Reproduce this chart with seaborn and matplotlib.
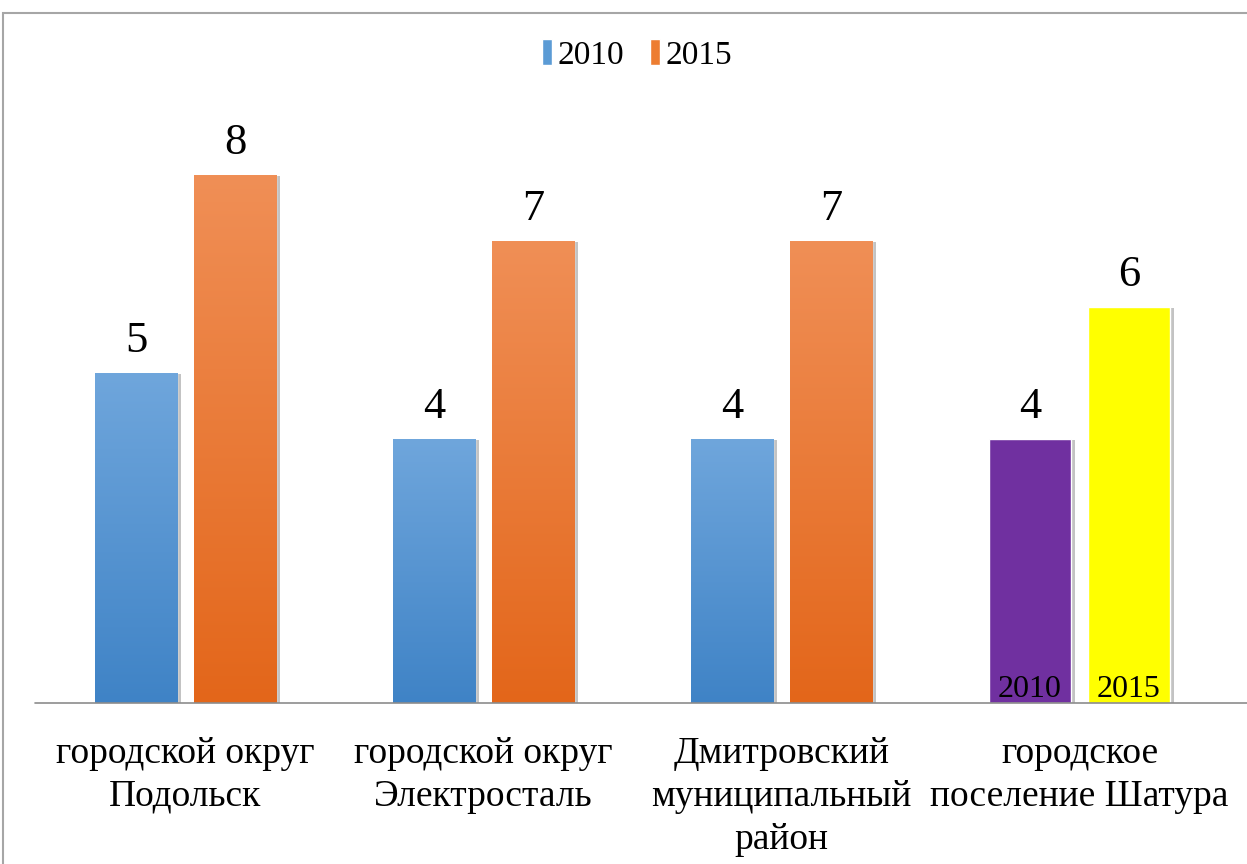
import numpy as np
import pandas as pd
import matplotlib
matplotlib.use("Agg")
import matplotlib.pyplot as plt
import matplotlib.patheffects as pe
from matplotlib.lines import Line2D
from matplotlib.patches import Rectangle
import seaborn as sns

categories = ["городской округ\nПодольск", "городской округ\nЭлектросталь",
              "Дмитровский\nмуниципальный\nрайон", "городское\nпоселение Шатура"]
years = ["2010", "2015"]
values_2010 = [5, 4, 4, 4]
values_2015 = [8, 7, 7, 6]

df = pd.DataFrame({
    "cat": categories * 2,
    "year": [years[0]] * 4 + [years[1]] * 4,
    "val": values_2010 + values_2015,
})

sns.set_theme(style="white")
plt.rcParams["font.family"] = ["Liberation Serif", "DejaVu Serif"]
plt.rcParams["text.color"] = "black"
plt.rcParams["xtick.color"] = "black"

fig = plt.figure(figsize=(12.47, 8.64), dpi=100)
ax = fig.add_axes([36.5 / 1247, 161 / 864, 1192 / 1247, 660 / 864])

sns.barplot(data=df, x="cat", y="val", hue="year", order=categories,
            hue_order=years, palette=["#5B9BD5", "#ED7D31"],
            width=0.664, gap=0.17, ax=ax, legend=False, saturation=1)

ax.set_ylim(0, 10)
ax.set_xlim(-0.5, 3.5)
for s in ax.spines.values():
    s.set_visible(False)
ax.set_yticks([])
ax.set_ylabel("")
ax.set_xlabel("")
ax.tick_params(axis="x", length=0, pad=24, labelsize=27, labelcolor="black")
for t in ax.get_xticklabels():
    t.set_linespacing(1.32)

grads = {0: ("#6FA6DC", "#3F83C6"), 1: ("#F08F56", "#E3661A")}
special = {0: "#7030A0", 1: "#FFFF00"}
for ci, cont in enumerate(ax.containers):
    for bi, patch in enumerate(cont.patches):
        patch.set_path_effects([pe.SimplePatchShadow(offset=(3, -1), shadow_rgbFace="#888888", alpha=0.5),
                                pe.Normal()])
        x0, y0 = patch.get_x(), patch.get_y()
        w, h = patch.get_width(), patch.get_height()
        if bi == 3:
            patch.set_facecolor(special[ci])
            ax.text(x0 + w / 2, -0.02, years[ci], ha="center", va="bottom",
                    fontsize=23, color="black")
        else:
            top, bot = grads[ci]
            cmap = matplotlib.colors.LinearSegmentedColormap.from_list("g", [bot, top])
            grad = np.linspace(0, 1, 256).reshape(-1, 1)
            im = ax.imshow(grad, extent=[x0, x0 + w, y0, y0 + h], origin="lower",
                           cmap=cmap, aspect="auto", zorder=patch.get_zorder() + 0.1)
            im.set_clip_path(patch)
    ax.bar_label(cont, labels=[str(int(v)) for v in cont.datavalues],
                 padding=9, fontsize=32, color="black")

ax.set_xlim(-0.5, 3.5)
ax.set_ylim(0, 10)

# baseline
fig.add_artist(Line2D([35 / 1247, 1.0], [161 / 864, 161 / 864], color="#8C8C8C", lw=1.2))
# chart frame
fig.add_artist(Rectangle((3 / 1247, -0.01), 1.2, (864 - 13) / 864 + 0.01,
                         fill=False, edgecolor="#A6A6A6", lw=1.5))

handles = [Rectangle((0, 0), 1, 1, facecolor="#5B9BD5"),
           Rectangle((0, 0), 1, 1, facecolor="#ED7D31")]
fig.legend(handles, years, loc="center", bbox_to_anchor=(637 / 1247, 1 - 55 / 864),
           ncol=2, frameon=False, fontsize=24, handlelength=0.3, handleheight=0.8,
           handletextpad=0.15, columnspacing=0.8)

fig.savefig("out.png", dpi=100)
